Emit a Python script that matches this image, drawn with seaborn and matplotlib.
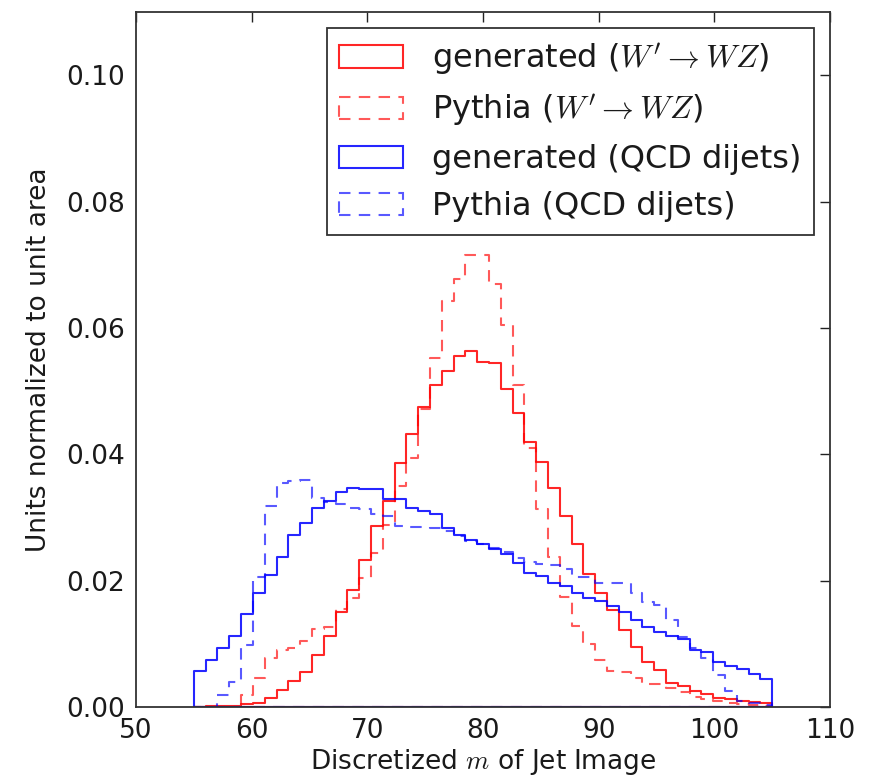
import numpy as np
import matplotlib
matplotlib.use("Agg")
import matplotlib.pyplot as plt
import matplotlib.patches as mpatches
import seaborn as sns

# discretized jet mass: 49 bins between 55 and 105
bin_edges = np.linspace(55, 105, 50).tolist()
bin_centers = [0.5 * (a + b) for a, b in zip(bin_edges[:-1], bin_edges[1:])]

# bin heights (normalized to unit area)
gen_wz = [0.0000, 0.0001, 0.0002, 0.0002, 0.0004, 0.0007, 0.0014, 0.0027, 0.0041, 0.0056,
          0.0083, 0.0112, 0.0150, 0.0185, 0.0232, 0.0286, 0.0326, 0.0386, 0.0432, 0.0475,
          0.0510, 0.0532, 0.0555, 0.0564, 0.0546, 0.0545, 0.0504, 0.0466, 0.0419, 0.0387,
          0.0347, 0.0302, 0.0258, 0.0211, 0.0180, 0.0153, 0.0122, 0.0095, 0.0072, 0.0058,
          0.0038, 0.0033, 0.0025, 0.0020, 0.0014, 0.0012, 0.0009, 0.0008, 0.0007]

pythia_wz = [0.0000, 0.0000, 0.0000, 0.0000, 0.0019, 0.0046, 0.0077, 0.0090, 0.0093, 0.0105,
             0.0124, 0.0127, 0.0155, 0.0172, 0.0204, 0.0243, 0.0288, 0.0349, 0.0394, 0.0472,
             0.0553, 0.0643, 0.0677, 0.0715, 0.0715, 0.0669, 0.0604, 0.0510, 0.0410, 0.0314,
             0.0237, 0.0174, 0.0128, 0.0100, 0.0075, 0.0057, 0.0056, 0.0046, 0.0037, 0.0037,
             0.0030, 0.0024, 0.0016, 0.0012, 0.0009, 0.0006, 0.0004, 0.0003, 0.0002]

gen_qcd = [0.0057, 0.0075, 0.0094, 0.0113, 0.0147, 0.0180, 0.0209, 0.0237, 0.0272, 0.0291,
           0.0315, 0.0326, 0.0341, 0.0347, 0.0345, 0.0345, 0.0329, 0.0329, 0.0315, 0.0311,
           0.0305, 0.0283, 0.0272, 0.0264, 0.0258, 0.0250, 0.0242, 0.0228, 0.0212, 0.0207,
           0.0197, 0.0192, 0.0180, 0.0173, 0.0167, 0.0160, 0.0150, 0.0138, 0.0127, 0.0119,
           0.0113, 0.0107, 0.0090, 0.0087, 0.0071, 0.0065, 0.0060, 0.0052, 0.0045]

pythia_qcd = [0.0000, 0.0000, 0.0019, 0.0040, 0.0098, 0.0206, 0.0318, 0.0355, 0.0357, 0.0359,
              0.0331, 0.0324, 0.0322, 0.0315, 0.0314, 0.0306, 0.0303, 0.0286, 0.0285, 0.0285,
              0.0284, 0.0278, 0.0270, 0.0263, 0.0258, 0.0252, 0.0245, 0.0236, 0.0230, 0.0227,
              0.0224, 0.0218, 0.0206, 0.0206, 0.0196, 0.0196, 0.0196, 0.0180, 0.0166, 0.0162,
              0.0137, 0.0110, 0.0094, 0.0077, 0.0050, 0.0026, 0.0010, 0.0006, 0.0003]

labels = [r"generated ($W' \rightarrow WZ$)",
          r"Pythia ($W' \rightarrow WZ$)",
          "generated (QCD dijets)",
          "Pythia (QCD dijets)"]

sns.set_theme(style="white")
plt.rcParams["font.family"] = ["DejaVu Sans"]
plt.rcParams["mathtext.fontset"] = "cm"
plt.rcParams["text.color"] = "#1a1a1a"
plt.rcParams["axes.labelcolor"] = "#1a1a1a"

fig = plt.figure(figsize=(8.72, 7.8), dpi=100)
ax = fig.add_axes([0.156, 0.0936, 0.796, 0.891])

dash = (0, (5.5, 4))
styles = [
    (gen_wz, (1, 0, 0, 0.85), "-"),
    (pythia_wz, (1, 0, 0, 0.65), dash),
    (gen_qcd, (0, 0, 1, 0.85), "-"),
    (pythia_qcd, (0, 0, 1, 0.65), dash),
]

handles = []
for vals, col, ls in styles:
    sns.histplot(x=bin_centers, weights=vals, bins=bin_edges, element="step", fill=True,
                 color=col[:3], facecolor="none", edgecolor=col, linestyle=ls,
                 linewidth=1.5, ax=ax)
    handles.append(mpatches.Patch(facecolor="none", edgecolor=col, linestyle=ls, linewidth=1.5))

ax.set_xlim(50, 110)
ax.set_ylim(0, 0.11)
ax.set_xticks(np.arange(50, 111, 10))
ax.set_yticks(np.arange(0, 0.101, 0.02))
ax.set_yticklabels([f"{t:.2f}" for t in np.arange(0, 0.101, 0.02)])
ax.tick_params(direction="in", top=True, right=True, length=7, width=1,
               labelsize=19, color="#222222", labelcolor="#1a1a1a", pad=8)
for sp in ax.spines.values():
    sp.set_linewidth(1.3)
    sp.set_color("#333333")
    sp.set_zorder(5)

ax.set_xlabel(r"Discretized $m$ of Jet Image", fontsize=19, labelpad=2)
ax.set_ylabel("Units normalized to unit area", fontsize=19, labelpad=10)

leg = ax.legend(handles, labels, loc="upper right", fontsize=23, fancybox=False,
                framealpha=1, edgecolor="#333333", borderaxespad=0.5, handletextpad=0.9)
leg.get_frame().set_linewidth(1.3)

fig.savefig("out.png", dpi=100)
